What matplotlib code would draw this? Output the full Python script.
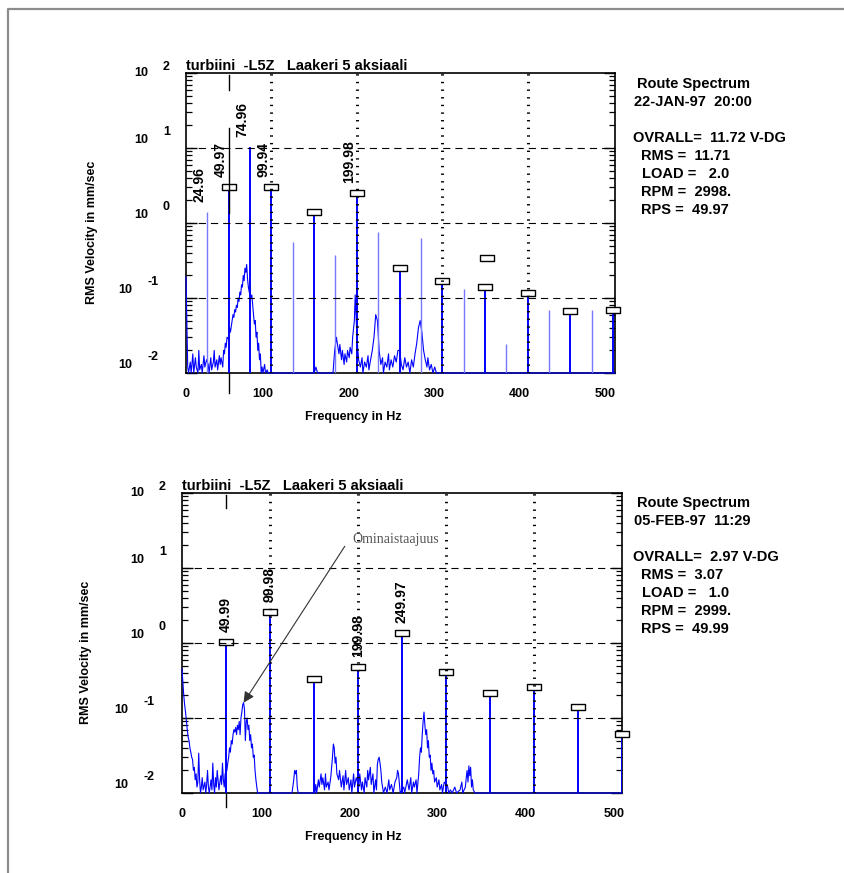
import numpy as np
import matplotlib
matplotlib.use("Agg")
import matplotlib.pyplot as plt
from matplotlib.path import Path
from matplotlib.lines import Line2D
from matplotlib.transforms import ScaledTranslation, blended_transform_factory

plt.rcParams['font.family'] = ['Liberation Sans', 'DejaVu Sans']
plt.rcParams['font.weight'] = 'bold'

# ---- spectrum 1: 22-JAN-97 ----
top_peak_freq = [24.96, 49.97, 74.96, 99.94, 124.9, 149.9, 174.9, 199.98, 224.9, 249.9,
                 274.9, 299.9, 324.9, 349.9, 374.8, 399.8, 424.8, 449.8, 474.8, 499.7]
top_peak_amp = [1.40, 3.0, 10.3, 3.0, 0.56, 1.40, 0.37, 2.5, 0.76, 0.25,
                0.63, 0.17, 0.13, 0.14, 0.024, 0.117, 0.069, 0.068, 0.069, 0.07]
top_boxed = [False, True, False, True, False, True, False, True, False, True,
             False, True, False, True, False, True, False, True, False, True]
top_labels = {24.96: "24.96", 49.97: "49.97", 74.96: "74.96", 99.94: "99.94", 199.98: "199.98"}
top_loose_box = (352.0, 0.34)

top_noise_f = [0, 1, 2, 3, 5, 6, 8, 9, 11, 12, 14, 15, 16, 18, 19, 21, 22, 24, 26, 27,
               29, 30, 32, 33, 34, 36, 37, 39, 40, 41, 43, 44, 45, 46, 47, 48, 50, 51, 52, 54,
               55, 56, 57, 58, 59, 60, 61, 62, 63, 64, 65, 66, 67, 68, 69, 70, 71, 72, 73, 74,
               76, 77, 78, 79, 80, 81, 82, 83, 84, 85, 86, 87, 88, 89, 90, 92, 93, 95, 96,
               100, 150, 152, 154, 172, 174, 176, 177, 179, 180, 182, 183, 185, 186, 188, 189,
               191, 192, 194, 195, 197, 198, 200, 202, 204, 206, 207, 209, 211, 213, 214, 216,
               218, 220, 222, 224, 226, 228, 230, 231, 233, 235, 237, 238, 240, 242, 244, 246,
               248, 250, 252, 254, 256, 258, 260, 262, 264, 266, 268, 270, 272, 274, 276, 278,
               280, 282, 283, 285, 287, 289, 291, 293, 296, 502]
top_noise_a = [0.19, 0.05, 0.012, 0.01, 0.014, 0.01, 0.018, 0.01, 0.016, 0.012, 0.01, 0.02,
               0.011, 0.013, 0.01, 0.017, 0.012, 0.015, 0.013, 0.01, 0.016, 0.011, 0.014, 0.02,
               0.012, 0.015, 0.011, 0.017, 0.013, 0.016, 0.012, 0.02, 0.018, 0.025, 0.022, 0.03,
               0.028, 0.04, 0.035, 0.05, 0.06, 0.055, 0.07, 0.065, 0.08, 0.075, 0.1, 0.09, 0.12,
               0.11, 0.15, 0.14, 0.2, 0.17, 0.25, 0.22, 0.28, 0.18, 0.14, 0.12, 0.1, 0.11, 0.08,
               0.06, 0.045, 0.05, 0.03, 0.035, 0.02, 0.025, 0.015, 0.018, 0.01, 0.012, 0.01,
               0.013, 0.01, 0.011, 0.01,
               0.01, 0.01, 0.012, 0.01, 0.01, 0.02, 0.03, 0.025, 0.018, 0.024, 0.015, 0.02,
               0.013, 0.018, 0.014, 0.02, 0.016, 0.022, 0.018, 0.03, 0.05, 0.11, 0.03, 0.015,
               0.012, 0.016, 0.01, 0.014, 0.012, 0.017, 0.011, 0.015, 0.02, 0.03, 0.06, 0.05,
               0.02, 0.013, 0.016, 0.01, 0.014, 0.012, 0.018, 0.011, 0.015, 0.012, 0.017, 0.014,
               0.02, 0.02, 0.013, 0.011, 0.016, 0.012, 0.014, 0.01, 0.015, 0.012, 0.018, 0.025,
               0.04, 0.05, 0.035, 0.02, 0.015, 0.012, 0.016, 0.011, 0.013, 0.01, 0.012, 0.01,
               0.01, 0.01]

top_info = ["Route Spectrum", "22-JAN-97  20:00", "", "OVRALL=  11.72 V-DG",
            "RMS =  11.71", "LOAD =   2.0", "RPM =  2998.", "RPS =  49.97"]
top_rps = 49.97

# ---- spectrum 2: 05-FEB-97 ----
bot_peak_freq = [49.99, 99.98, 149.97, 199.98, 249.97, 299.96, 349.95, 399.94, 449.93, 499.92]
bot_peak_amp = [1.03, 2.6, 0.33, 0.48, 1.35, 0.41, 0.215, 0.26, 0.14, 0.061]
bot_boxed = [True] * 10
bot_labels = {49.99: "49.99", 99.98: "99.98", 199.98: "199.98", 249.97: "249.97"}

bot_noise_f = [0, 1, 2, 3, 4, 5, 6, 7, 8, 9, 10, 11, 12, 13, 14, 15, 16, 17, 18, 19, 20, 21,
               22, 23, 24, 26, 27, 28, 29, 30, 31, 33, 34, 35, 36, 37, 38, 39, 40, 41, 42, 44,
               45, 46, 47, 48, 49, 51, 52, 53, 54, 55, 56, 57, 58, 59, 60, 61, 62, 63, 64, 65,
               66, 67, 68, 69, 70, 71, 72, 73, 74, 75, 76, 77, 78, 79, 80, 81, 82, 83, 84, 85,
               86, 125, 127, 128, 129, 130, 131, 132, 151, 152, 153, 155, 156, 158, 159, 160,
               162, 163, 164, 166, 167, 169, 170, 171, 172, 173, 174, 175, 176, 178, 179, 181,
               183, 184, 186, 187, 189, 190, 192, 193, 195, 196, 198, 201, 202, 204, 205, 207,
               208, 210, 211, 212, 214, 215, 217, 218, 220, 221, 222, 223, 224, 225, 226, 227,
               229, 231, 233, 235, 236, 238, 240, 242, 244, 245, 246, 248, 252, 253, 255, 256,
               258, 260, 261, 263, 264, 266, 267, 269, 270, 271, 272, 273, 274, 275, 276, 277,
               278, 279, 280, 281, 282, 283, 284, 285, 286, 287, 289, 290, 292, 293, 295, 296,
               298, 302, 303, 305, 307, 310, 312, 316, 318, 319, 322, 323, 324, 325, 326, 327,
               328, 329, 330, 331, 333, 500]
bot_noise_a = [0.45, 0.3, 0.2, 0.15, 0.12, 0.09, 0.07, 0.055, 0.05, 0.04, 0.035, 0.03, 0.028,
               0.02, 0.022, 0.015, 0.018, 0.012, 0.014, 0.034, 0.015, 0.01, 0.012, 0.016, 0.011,
               0.014, 0.01, 0.013, 0.02, 0.012, 0.01, 0.015, 0.011, 0.025, 0.013, 0.01, 0.016,
               0.012, 0.02, 0.015, 0.011, 0.017, 0.013, 0.025, 0.015, 0.012, 0.018, 0.02, 0.025,
               0.03, 0.04, 0.035, 0.05, 0.045, 0.06, 0.07, 0.065, 0.075, 0.06, 0.08, 0.07, 0.09,
               0.06, 0.1, 0.12, 0.15, 0.16, 0.13, 0.05, 0.09, 0.1, 0.07, 0.08, 0.05, 0.06, 0.04,
               0.045, 0.03, 0.032, 0.02, 0.015, 0.012, 0.01, 0.01, 0.015, 0.02, 0.018, 0.02,
               0.012, 0.01, 0.01, 0.013, 0.01, 0.015, 0.012, 0.018, 0.013, 0.016, 0.011, 0.018,
               0.012, 0.014, 0.011, 0.016, 0.022, 0.03, 0.045, 0.04, 0.025, 0.03, 0.018, 0.015,
               0.02, 0.012, 0.017, 0.011, 0.02, 0.013, 0.016, 0.011, 0.015, 0.01, 0.018, 0.012,
               0.016, 0.012, 0.018, 0.011, 0.014, 0.01, 0.016, 0.012, 0.02, 0.015, 0.022, 0.013,
               0.018, 0.01, 0.015, 0.011, 0.024, 0.028, 0.03, 0.025, 0.02, 0.014, 0.01, 0.012,
               0.01, 0.015, 0.011, 0.013, 0.01, 0.014, 0.016, 0.02, 0.018, 0.01, 0.012, 0.01,
               0.013, 0.015, 0.011, 0.016, 0.01, 0.014, 0.012, 0.015, 0.01, 0.018, 0.03, 0.04,
               0.035, 0.06, 0.09, 0.12, 0.08, 0.06, 0.07, 0.04, 0.05, 0.03, 0.032, 0.02, 0.025,
               0.018, 0.02, 0.014, 0.016, 0.012, 0.015, 0.011, 0.013, 0.01, 0.014, 0.012, 0.01,
               0.011, 0.01, 0.012, 0.01, 0.011, 0.014, 0.01, 0.012, 0.016, 0.02, 0.014, 0.023,
               0.017, 0.022, 0.012, 0.015, 0.011, 0.01, 0.01]

bot_info = ["Route Spectrum", "05-FEB-97  11:29", "", "OVRALL=  2.97 V-DG",
            "RMS =  3.07", "LOAD =   1.0", "RPM =  2999.", "RPS =  49.99"]
bot_rps = 49.99

title_text = "turbiini  -L5Z   Laakeri 5 aksiaali"
note_text = "Ominaistaajuus"

W, H = 845, 873
fig = plt.figure(figsize=(W / 100, H / 100), dpi=100)

# page frame
fig.add_artist(Line2D([8 / W, 8 / W, 1.0], [0.0, 1 - 9 / H, 1 - 9 / H],
                      transform=fig.transFigure, color='#8c8c8c', lw=1.6))

box_marker = Path([(-1, -0.5), (1, -0.5), (1, 0.5), (-1, 0.5), (-1, -0.5)],
                  [Path.MOVETO, Path.LINETO, Path.LINETO, Path.LINETO, Path.CLOSEPOLY])
blue = '#0000ff'


def draw_spectrum(ax, xmax, noise_f, noise_a, pk_f, pk_a, boxed, labels, label_dx,
                  rps, cursor_top, cursor_below, info, info_top):
    ax.set_yscale('log')
    ax.set_ylim(0.01, 100)
    ax.set_xlim(0, xmax)
    for s in ax.spines.values():
        s.set_linewidth(1.2)

    # broadband spectrum and discrete lines
    ax.plot(noise_f, noise_a, color=blue, lw=0.8, zorder=3, clip_on=False)
    pk_f = np.array(pk_f)
    pk_a = np.array(pk_a)
    boxed = np.array(boxed)
    strong = boxed | (pk_a > 5)
    ax.vlines(pk_f[~strong], 0.01, pk_a[~strong], color='#7878ff', lw=1.0, zorder=3)
    ax.vlines(pk_f[strong], 0.01, pk_a[strong], color=blue, lw=1.4, zorder=3)
    ax.plot(pk_f[boxed], pk_a[boxed], ls='none', marker=box_marker, ms=9.5,
            mfc='white', mec='black', mew=1.0, zorder=4, clip_on=False)

    # decade grid and harmonic cursors
    for e in (1, 0, -1):
        ax.axhline(10.0 ** e, color='black', lw=0.8, ls=(0, (6.5, 4.5)), zorder=5)
    for f in (100, 200, 300, 400):
        ax.axvline(f, color='black', lw=2.2, ls=(0, (0.45, 2.05)), zorder=5)
    tr = blended_transform_factory(ax.transData, ax.transAxes)
    for y0, y1 in cursor_top:
        ax.plot([rps, rps], [y0, y1], color='black', lw=1.0, transform=tr, zorder=5)
    ax.plot([rps, rps], [0, cursor_below], color='black', lw=1.0, transform=tr,
            zorder=5, clip_on=False)

    # peak labels
    for f, a in zip(pk_f, pk_a):
        key = round(float(f), 2)
        if key in labels:
            ax.annotate(labels[key], xy=(f, a), xytext=(label_dx, 10), textcoords='offset pixels',
                        rotation=90, ha='center', va='bottom', fontsize=10, zorder=6)

    # axes ticks
    ax.tick_params(axis='y', which='major', direction='in', length=8, width=1,
                   left=True, right=True, labelleft=False)
    ax.tick_params(axis='y', which='minor', direction='in', length=4.5, width=0.9,
                   left=True, right=True, labelleft=False)
    ax.set_xticks([0, 100, 200, 300, 400, 500])
    ax.set_xticklabels(['0', '100', '200', '300', '400', '500'], fontsize=9, fontweight='bold')
    ax.tick_params(axis='x', length=0, pad=11)
    for lab in ax.get_xticklabels()[1:]:
        lab.set_transform(lab.get_transform() + ScaledTranslation(-6 / 72, 0, fig.dpi_scale_trans))
    ax.xaxis.set_minor_locator(plt.NullLocator())

    for e in (2, 1, 0, -1, -2):
        dx10, dxe = (-38, -23) if e >= 0 else (-54, -38)
        dy = 0 if e == 2 else 8
        ax.annotate("10", xy=(0, 10.0 ** e), xycoords=('axes fraction', 'data'),
                    xytext=(dx10, -dy if e == 2 else dy), textcoords='offset pixels',
                    ha='right', va='center', fontsize=9)
        ax.annotate(str(e), xy=(0, 10.0 ** e), xycoords=('axes fraction', 'data'),
                    xytext=(dxe, 6 if e == 2 else 16), textcoords='offset pixels',
                    ha='left', va='center', fontsize=9)

    ax.text(0.0, 1.0, title_text, transform=ax.transAxes, ha='left', va='bottom',
            fontsize=10.5)
    ax.text(0.39, -0.147, "Frequency in Hz", transform=ax.transAxes, ha='center',
            va='center', fontsize=9)
    ax.text(-0.218, 0.47, "RMS Velocity in mm/sec", transform=ax.transAxes, rotation=90,
            ha='center', va='center', fontsize=9)

    # measurement info block
    indents = [637, 634, 0, 633, 641, 642, 641, 641]
    for i, (line, x0) in enumerate(zip(info, indents)):
        if line:
            fig.text(x0 / W, 1 - (info_top + 18 * i) / H, line, ha='left', va='center',
                     fontsize=10.5)


ax1 = fig.add_axes([186 / W, 1 - 373 / H, 429 / W, 300 / H])
draw_spectrum(ax1, 502, top_noise_f, top_noise_a, top_peak_freq, top_peak_amp, top_boxed,
              top_labels, -8, top_rps, [(0.943, 0.993), (0.533, 0.817)], -0.067, top_info, 84)
ax1.plot([top_loose_box[0]], [top_loose_box[1]], ls='none', marker=box_marker, ms=9.5,
         mfc='white', mec='black', mew=1.0, zorder=4)

ax2 = fig.add_axes([182 / W, 1 - 793 / H, 440 / W, 300 / H])
draw_spectrum(ax2, 500, bot_noise_f, bot_noise_a, bot_peak_freq, bot_peak_amp, bot_boxed,
              bot_labels, 0, bot_rps, [(0.95, 0.993)], -0.047, bot_info, 503)

# natural frequency hump marked with an arrow
nf = np.array(bot_noise_f)
na = np.array(bot_noise_a)
sel = (nf > 60) & (nf < 80)
hump_f = nf[sel][np.argmax(na[sel])]
hump_a = na[sel].max()
ax2.annotate("", xy=(hump_f, hump_a), xytext=(185, 19.5),
             arrowprops=dict(arrowstyle='-|>', color='#333333', lw=0.8, mutation_scale=16,
                             shrinkA=0, shrinkB=0), zorder=7)
fig.text(352 / W, 1 - 540 / H, note_text, ha='left', va='center', fontsize=10,
         family=['Liberation Serif', 'DejaVu Serif'], fontweight='normal', color='#555555')

fig.savefig("out.png", dpi=100)
